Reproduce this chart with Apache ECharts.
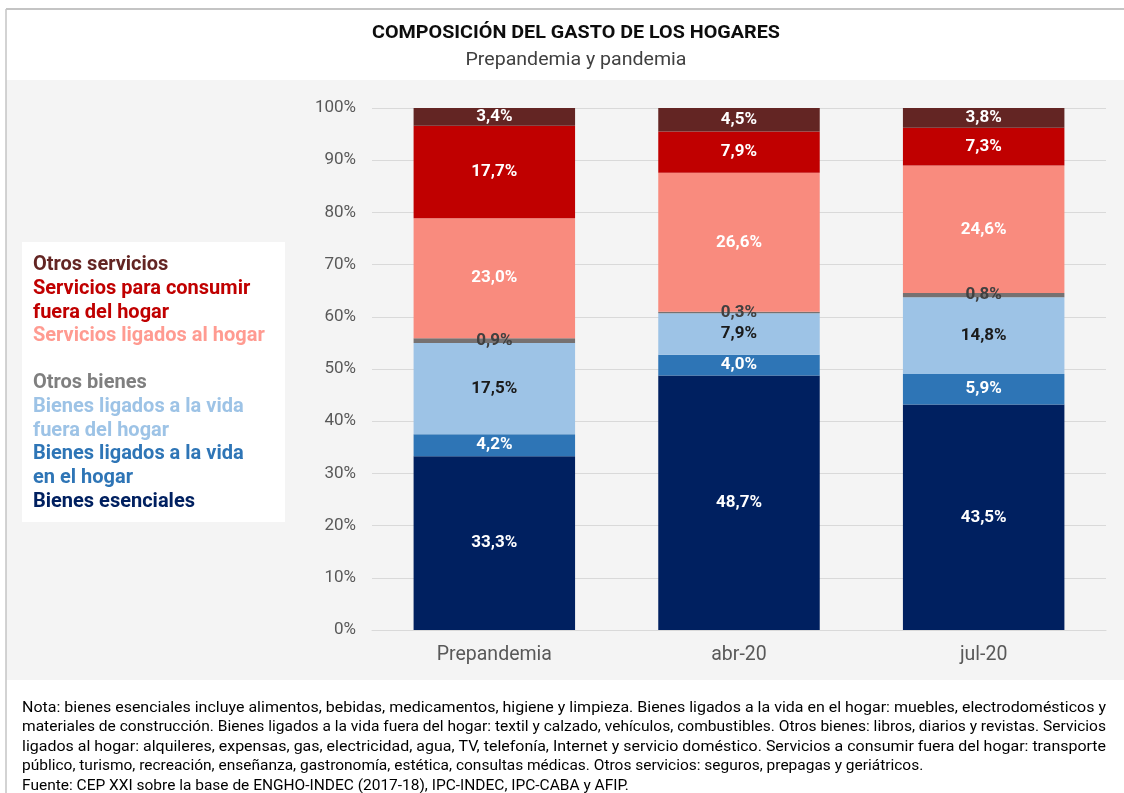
<!DOCTYPE html>
<html>
<head>
<meta charset="utf-8">
<title>Composición del gasto de los hogares</title>
<script src="https://cdn.jsdelivr.net/npm/echarts@6/dist/echarts.min.js"></script>
<style>
    html, body { margin: 0; padding: 0; background: #fff; }
    #g_chart { width: 1124px; height: 793px; }
</style>
</head>
<body>
<div id="g_chart"></div>
<script>
// datos (de abajo hacia arriba en cada barra)
var categorias = ['Prepandemia', 'abr-20', 'jul-20'];
var bienesEsenciales = [33.3, 48.7, 43.5];
var bienesVidaHogar = [4.2, 4.0, 5.9];
var bienesVidaFuera = [17.5, 7.9, 14.8];
var otrosBienes = [0.9, 0.3, 0.8];
var serviciosHogar = [23.0, 26.6, 24.6];
var serviciosFuera = [17.7, 7.9, 7.3];
var otrosServicios = [3.4, 4.5, 3.8];
var ticksY = [0, 10, 20, 30, 40, 50, 60, 70, 80, 90, 100];

var notas = [
    'Nota: bienes esenciales incluye alimentos, bebidas, medicamentos, higiene y limpieza. Bienes ligados a la vida en el hogar: muebles, electrodomésticos y',
    'materiales de construcción. Bienes ligados a la vida fuera del hogar: textil y calzado, vehículos, combustibles. Otros bienes: libros, diarios y revistas. Servicios',
    'ligados al hogar: alquileres, expensas, gas, electricidad, agua, TV, telefonía, Internet y servicio doméstico. Servicios a consumir fuera del hogar: transporte',
    'público, turismo, recreación, enseñanza, gastronomía, estética, consultas médicas. Otros servicios: seguros, prepagas y geriátricos.',
    'Fuente: CEP XXI sobre la base de ENGHO-INDEC (2017-18), IPC-INDEC, IPC-CABA y AFIP.'
];

var FUENTE = 'Roboto, "Noto Sans", sans-serif';

var series_def = [
    {name: 'Bienes esenciales', datos: bienesEsenciales, color: '#002060', texto: '#002060', label: '#ffffff'},
    {name: 'Bienes ligados a la vida\nen el hogar', datos: bienesVidaHogar, color: '#2E75B6', texto: '#2E75B6', label: '#ffffff'},
    {name: 'Bienes ligados a la vida\nfuera del hogar', datos: bienesVidaFuera, color: '#9DC3E6', texto: '#9DC3E6', label: '#1a1a1a'},
    {name: 'Otros bienes', datos: otrosBienes, color: '#767171', texto: '#7f7f7f', label: '#404040'},
    {name: 'Servicios ligados al hogar', datos: serviciosHogar, color: '#F98B7E', texto: '#FF9B91', label: '#ffffff'},
    {name: 'Servicios para consumir\nfuera del hogar', datos: serviciosFuera, color: '#C00000', texto: '#C00000', label: '#ffffff'},
    {name: 'Otros servicios', datos: otrosServicios, color: '#632523', texto: '#632523', label: '#ffffff'}
];

// total de cada barra, para que todas lleguen a 100%
var totales = categorias.map(function(c, i){
    var s = 0;
    series_def.forEach(function(sd){ s += sd.datos[i]; });
    return s;
});

function fmt(v){
    return v.toFixed(1).replace('.', ',') + '%';
}

// medir texto para ajustar el ancho de las notas (texto justificado)
var ctx = document.createElement('canvas').getContext('2d');
function anchoTexto(txt, font){
    ctx.font = font;
    return ctx.measureText(txt).width;
}

var chart = echarts.init(document.getElementById('g_chart'));

var series = series_def.map(function(sd){
    return {
        name: sd.name,
        type: 'bar',
        stack: 'total',
        barCategoryGap: '34%',
        itemStyle: {color: sd.color},
        label: {
            show: true,
            position: 'inside',
            color: sd.label,
            fontFamily: FUENTE,
            fontWeight: 'bold',
            fontSize: 17,
            formatter: function(p){ return fmt(sd.datos[p.dataIndex]); }
        },
        emphasis: {disabled: true},
        data: sd.datos.map(function(v, i){ return v / totales[i] * 100; })
    };
});

var legendaServicios = series_def.slice(4).reverse().map(function(sd){
    return {name: sd.name, textStyle: {color: sd.texto}};
});
var legendaBienes = series_def.slice(0, 4).reverse().map(function(sd){
    return {name: sd.name, textStyle: {color: sd.texto}};
});

function legenda(top, data){
    return {
        orient: 'vertical',
        left: 28,
        top: top,
        icon: 'none',
        itemWidth: 0,
        itemHeight: 10,
        itemGap: 0,
        padding: 0,
        textStyle: {fontFamily: FUENTE, fontWeight: 'bold', fontSize: 20, lineHeight: 23.8},
        data: data
    };
}

// notas al pie: las tres primeras lineas justificadas al ancho de la caja,
// las dos ultimas con la misma compresion media
var fontNota = '14.5px ' + FUENTE;
var escalas = notas.slice(0, 3).map(function(t){ return 1084 / anchoTexto(t, fontNota); });
var escalaMedia = (escalas[0] + escalas[1] + escalas[2]) / 3 * 0.978;
var notasGraphic = notas.map(function(t, i){
    return {
        type: 'text',
        x: 22,
        y: 708 + i * 19.5,
        scaleX: i < 3 ? escalas[i] : escalaMedia,
        style: {text: t, font: fontNota, fill: '#000000', textAlign: 'left', textVerticalAlign: 'middle'}
    };
});

var fontTitulo = 'bold 19px ' + FUENTE;
var escalaTitulo = 408 / anchoTexto('COMPOSICIÓN DEL GASTO DE LOS HOGARES', fontTitulo);
var fontSub = '19px ' + FUENTE;
var escalaSub = 221 / anchoTexto('Prepandemia y pandemia', fontSub);

chart.setOption({
    backgroundColor: '#ffffff',
    animation: false,
    graphic: [
        {type: 'rect', z: -10, shape: {x: 6, y: 80, width: 1118, height: 600}, style: {fill: '#f4f4f4'}},
        {type: 'line', z: -5, shape: {x1: 6, y1: 9, x2: 1124, y2: 9}, style: {stroke: '#c4c4c4', lineWidth: 2}},
        {type: 'line', z: -5, shape: {x1: 6, y1: 9, x2: 6, y2: 793}, style: {stroke: '#c4c4c4', lineWidth: 1.5}},
        {type: 'rect', z: -4, shape: {x: 22, y: 242, width: 263, height: 280}, style: {fill: '#ffffff'}},
        {
            type: 'text', x: 576, y: 33, scaleX: escalaTitulo,
            style: {text: 'COMPOSICIÓN DEL GASTO DE LOS HOGARES', font: fontTitulo, fill: '#0d0d0d', textAlign: 'center', textVerticalAlign: 'middle'}
        },
        {
            type: 'text', x: 576, y: 60, scaleX: escalaSub,
            style: {text: 'Prepandemia y pandemia', font: fontSub, fill: '#404040', textAlign: 'center', textVerticalAlign: 'middle'}
        }
    ].concat(notasGraphic),
    legend: [legenda(253, legendaServicios), legenda(371, legendaBienes)],
    grid: {left: 372, right: 18, top: 108, bottom: 163, containLabel: false},
    xAxis: {
        type: 'category',
        data: categorias,
        axisTick: {show: false},
        axisLine: {lineStyle: {color: '#d9d9d9'}},
        axisLabel: {color: '#595959', fontFamily: FUENTE, fontSize: 19.5, margin: 15}
    },
    yAxis: {
        type: 'value',
        min: ticksY[0],
        max: ticksY[ticksY.length - 1],
        interval: ticksY[1] - ticksY[0],
        axisLine: {show: false},
        axisTick: {show: false},
        splitLine: {lineStyle: {color: '#d9d9d9'}},
        axisLabel: {color: '#595959', fontFamily: FUENTE, fontSize: 17, margin: 16, formatter: '{value}%'}
    },
    series: series
});
</script>
</body>
</html>
